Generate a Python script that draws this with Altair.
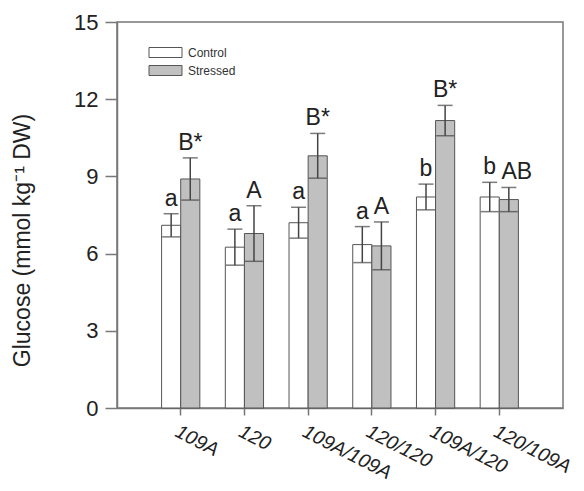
import altair as alt
import pandas as pd

genotypes = ["109A", "120", "109A/109A", "120/120", "109A/120", "120/109A"]
treatments = ["Control", "Stressed"]
control_mean = [7.1, 6.25, 7.2, 6.35, 8.2, 8.2]
control_se = [0.45, 0.7, 0.6, 0.7, 0.5, 0.57]
stressed_mean = [8.9, 6.78, 9.8, 6.3, 11.17, 8.1]
stressed_se = [0.82, 1.08, 0.87, 0.93, 0.59, 0.47]
control_letters = ["a", "a", "a", "a", "b", "b"]
stressed_letters = ["B*", "A", "B*", "A", "B*", "AB"]
y_ticks = [0, 3, 6, 9, 12, 15]

rows = []
for i, g in enumerate(genotypes):
    for t, m, s, l in (("Control", control_mean, control_se, control_letters),
                       ("Stressed", stressed_mean, stressed_se, stressed_letters)):
        rows.append({"genotype": g, "treatment": t, "mean": m[i],
                     "lo": m[i] - s[i], "hi": m[i] + s[i], "letter": l[i]})
df = pd.DataFrame(rows)

FONT = "Liberation Sans"
GRAY = "#555555"

x = alt.X("genotype:N", sort=genotypes,
          scale=alt.Scale(paddingInner=0.4, paddingOuter=0.7),
          axis=alt.Axis(title=None, labelAngle=27, labelAlign="left",
                        labelBaseline="top", labelFontStyle="italic",
                        labelFontSize=19.5, tickSize=7, labelPadding=7))
xo = alt.XOffset("treatment:N", sort=treatments)

base = alt.Chart(df)

bars = base.mark_bar(stroke=GRAY, strokeWidth=1).encode(
    x=x, xOffset=xo,
    y=alt.Y("mean:Q", scale=alt.Scale(domain=[0, 15], nice=False),
            axis=alt.Axis(values=y_ticks, title="Glucose (mmol kg⁻¹ DW)",
                          titleFontSize=23, titleFontWeight="normal",
                          titleX=-83, titleY=218, titleColor="#222",
                          labelFontSize=22, tickSize=12, labelPadding=7)),
    fill=alt.Fill("treatment:N", sort=treatments,
                  scale=alt.Scale(domain=treatments, range=["#ffffff", "#c0c0c0"]),
                  legend=alt.Legend(title=None, orient="none", legendX=38, legendY=20,
                                    symbolType="M-1.65,-0.5H1.65V0.5H-1.65Z",
                                    symbolSize=400, symbolStrokeColor=GRAY,
                                    symbolStrokeWidth=1, symbolOpacity=1,
                                    labelFontSize=12, labelOffset=12, labelColor="#333",
                                    labelFont=FONT, rowPadding=0, padding=0)),
)

rules = base.mark_rule(color="#444", strokeWidth=1.5).encode(
    x=x, xOffset=xo, y="lo:Q", y2="hi:Q")

caps_top = base.mark_tick(color="#444", thickness=1.5, size=15).encode(
    x=x, xOffset=xo, y="hi:Q")
caps_bot = base.mark_tick(color="#444", thickness=1.5, size=18).encode(
    x=x, xOffset=xo, y="lo:Q")

letters = base.transform_filter(alt.datum.letter != "AB").mark_text(
    fontSize=23, font=FONT, color="#222", baseline="bottom", dy=-3).encode(
    x=x, xOffset=xo, y="hi:Q", text="letter:N")

letters_ab = base.transform_filter(alt.datum.letter == "AB").mark_text(
    fontSize=23, font=FONT, color="#222", baseline="bottom", dy=-3, dx=8).encode(
    x=x, xOffset=xo, y="hi:Q", text="letter:N")

chart = alt.layer(bars, rules, caps_top, caps_bot, letters, letters_ab).properties(
    width=446, height=386,
    autosize=alt.AutoSizeParams(type="none"),
    padding={"left": 109, "top": 14, "right": 13, "bottom": 75},
).configure_view(stroke="#777777", strokeWidth=1.5).configure_axis(
    grid=False, domainColor="#777777", domainWidth=1.5, tickColor="#777777",
    tickWidth=1.5, labelColor="#222", labelFont=FONT, titleFont=FONT
).configure_scale(offsetBandPaddingInner=0, offsetBandPaddingOuter=0)

chart.save("out.html", embed_options={"renderer": "svg", "actions": False})
